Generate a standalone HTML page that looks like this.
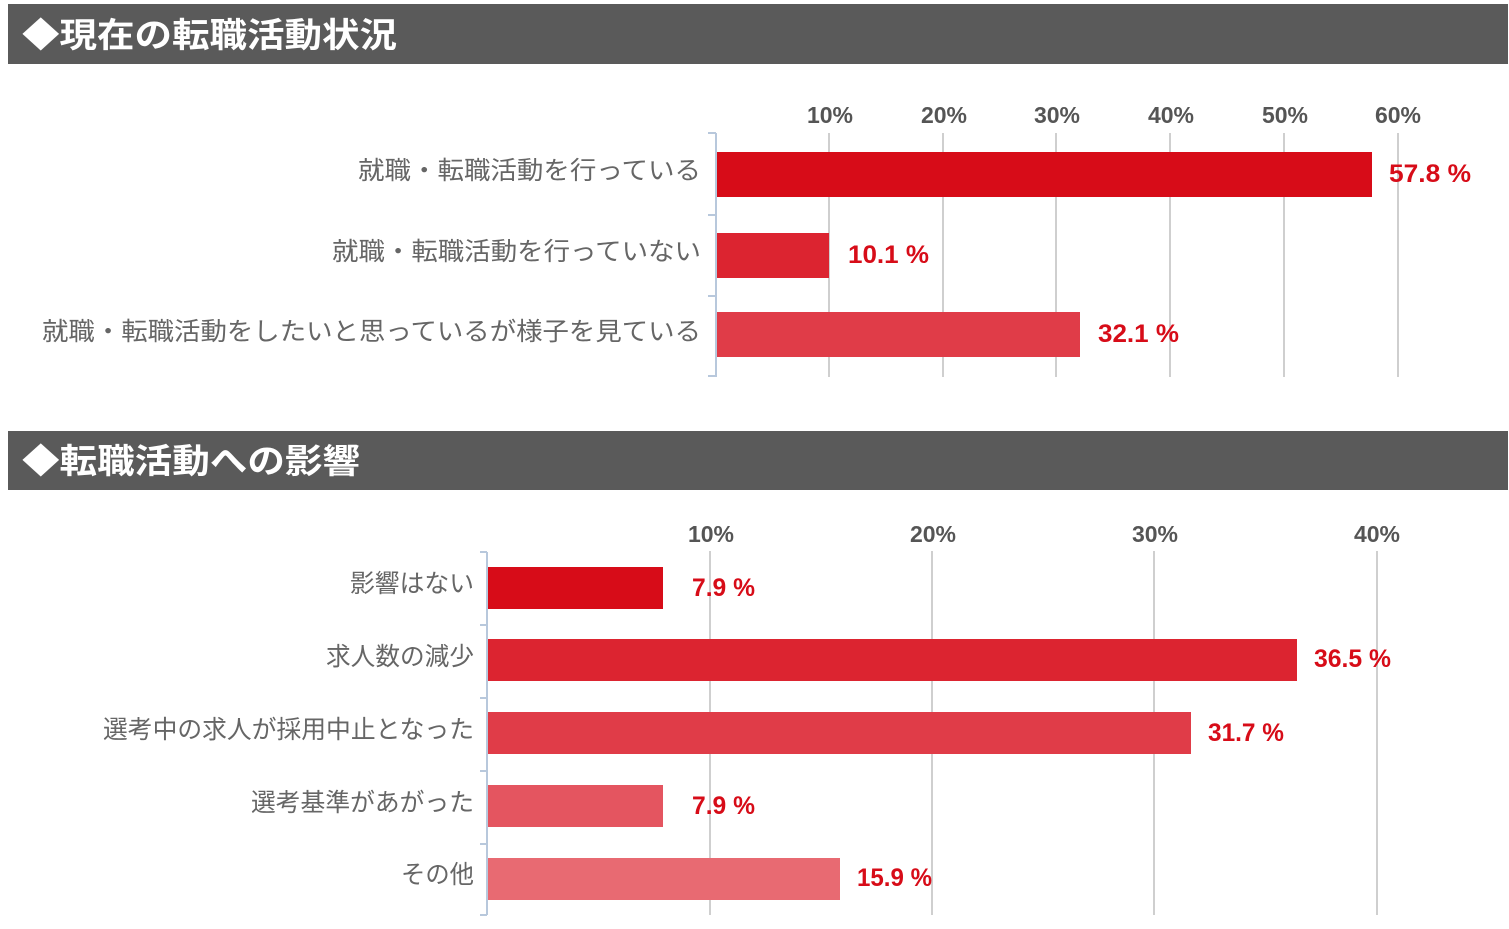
<!DOCTYPE html><html><head><meta charset="utf-8"><style>body{margin:0;background:#fff}svg{display:block}</style></head><body>
<svg width="1509" height="929" xmlns="http://www.w3.org/2000/svg" font-family="'Liberation Sans','Noto Sans CJK JP',sans-serif">
<rect x="8" y="4" width="1500" height="60" fill="#5a5a5a"/>
<text x="22" y="47" fill="#fff" font-size="34" font-weight="bold" textLength="375" lengthAdjust="spacingAndGlyphs">◆現在の転職活動状況</text>
<rect x="8" y="431" width="1500" height="59" fill="#5a5a5a"/>
<text x="22" y="473" fill="#fff" font-size="34" font-weight="bold" textLength="338" lengthAdjust="spacingAndGlyphs">◆転職活動への影響</text>
<g stroke="#cfcfcf" stroke-width="2">
<line x1="829" y1="133" x2="829" y2="377"/><line x1="943" y1="133" x2="943" y2="377"/><line x1="1056" y1="133" x2="1056" y2="377"/><line x1="1170" y1="133" x2="1170" y2="377"/><line x1="1284" y1="133" x2="1284" y2="377"/><line x1="1398" y1="133" x2="1398" y2="377"/>
<line x1="710" y1="551" x2="710" y2="915"/><line x1="932" y1="551" x2="932" y2="915"/><line x1="1154" y1="551" x2="1154" y2="915"/><line x1="1377" y1="551" x2="1377" y2="915"/>
</g>
<g font-size="23" font-weight="bold" fill="#555" text-anchor="middle">
<text x="830" y="123">10%</text><text x="944" y="123">20%</text><text x="1057" y="123">30%</text><text x="1171" y="123">40%</text><text x="1285" y="123">50%</text><text x="1398" y="123">60%</text>
<text x="711" y="542">10%</text><text x="933" y="542">20%</text><text x="1155" y="542">30%</text><text x="1377" y="542">40%</text>
</g>
<g stroke="#b8c8dc" stroke-width="2">
<line x1="716" y1="133" x2="716" y2="377"/><line x1="708" y1="133" x2="716" y2="133"/><line x1="708" y1="215" x2="716" y2="215"/><line x1="708" y1="296" x2="716" y2="296"/><line x1="708" y1="376" x2="716" y2="376"/>
<line x1="487" y1="552" x2="487" y2="915"/><line x1="480" y1="552" x2="487" y2="552"/><line x1="480" y1="625" x2="487" y2="625"/><line x1="480" y1="698" x2="487" y2="698"/><line x1="480" y1="771" x2="487" y2="771"/><line x1="480" y1="844" x2="487" y2="844"/><line x1="480" y1="915" x2="487" y2="915"/>
</g>
<rect x="717" y="152" width="655" height="45" fill="#d70c18"/>
<rect x="717" y="233" width="112" height="45" fill="#dc2430"/>
<rect x="717" y="312" width="363" height="45" fill="#e03c48"/>
<rect x="488" y="567" width="175" height="42" fill="#d70c18"/>
<rect x="488" y="639" width="809" height="42" fill="#dc2430"/>
<rect x="488" y="712" width="703" height="42" fill="#e03c48"/>
<rect x="488" y="785" width="175" height="42" fill="#e45560"/>
<rect x="488" y="858" width="352" height="42" fill="#e86a72"/>
<g font-size="25" fill="#666" lengthAdjust="spacingAndGlyphs">
<text x="358" y="179" textLength="343" lengthAdjust="spacingAndGlyphs">就職・転職活動を行っている</text>
<text x="332" y="260" textLength="369" lengthAdjust="spacingAndGlyphs">就職・転職活動を行っていない</text>
<text x="42" y="340" textLength="659" lengthAdjust="spacingAndGlyphs">就職・転職活動をしたいと思っているが様子を見ている</text>
<text x="350" y="592" textLength="124" lengthAdjust="spacingAndGlyphs">影響はない</text>
<text x="326" y="665" textLength="148" lengthAdjust="spacingAndGlyphs">求人数の減少</text>
<text x="103" y="738" textLength="371" lengthAdjust="spacingAndGlyphs">選考中の求人が採用中止となった</text>
<text x="251" y="811" textLength="223" lengthAdjust="spacingAndGlyphs">選考基準があがった</text>
<text x="401" y="883" textLength="73" lengthAdjust="spacingAndGlyphs">その他</text>
</g>
<g font-size="25" font-weight="bold" fill="#d70c18">
<text x="1389" y="182" textLength="82" lengthAdjust="spacingAndGlyphs">57.8 %</text><text x="848" y="263" textLength="81" lengthAdjust="spacingAndGlyphs">10.1 %</text><text x="1098" y="342" textLength="81" lengthAdjust="spacingAndGlyphs">32.1 %</text>
<text x="692" y="596" textLength="63" lengthAdjust="spacingAndGlyphs">7.9 %</text><text x="1314" y="667" textLength="77" lengthAdjust="spacingAndGlyphs">36.5 %</text><text x="1208" y="741" textLength="76" lengthAdjust="spacingAndGlyphs">31.7 %</text><text x="692" y="814" textLength="63" lengthAdjust="spacingAndGlyphs">7.9 %</text><text x="857" y="886" textLength="75" lengthAdjust="spacingAndGlyphs">15.9 %</text>
</g>
</svg></body></html>
